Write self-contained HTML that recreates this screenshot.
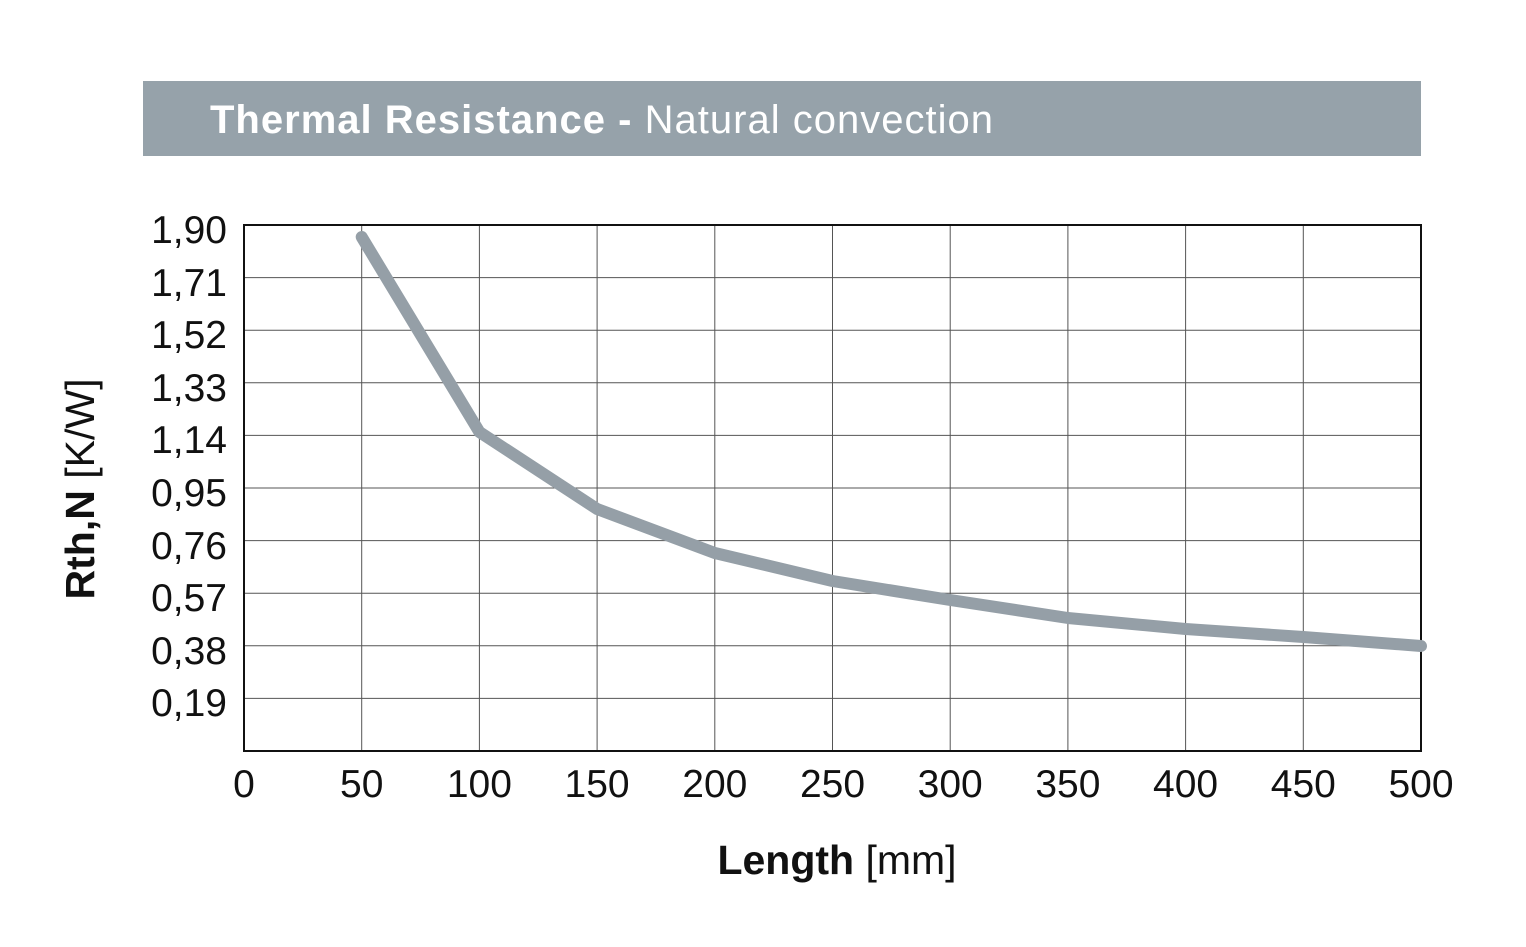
<!DOCTYPE html>
<html><head><meta charset="utf-8"><style>
html,body{margin:0;padding:0;background:#fff;width:1526px;height:947px;overflow:hidden}
</style></head><body>
<svg width="1526" height="947" xmlns="http://www.w3.org/2000/svg" font-family="Liberation Sans, Arial, sans-serif">
<rect x="143" y="81" width="1278" height="75" fill="#96a2aa"/>
<text x="210" y="133" font-size="40" fill="#fff" textLength="783" lengthAdjust="spacing"><tspan font-weight="bold">Thermal Resistance - </tspan>Natural convection</text>
<g stroke="#555" stroke-width="1">
<line x1="361.7" y1="225" x2="361.7" y2="751"/><line x1="479.4" y1="225" x2="479.4" y2="751"/><line x1="597.1" y1="225" x2="597.1" y2="751"/><line x1="714.8" y1="225" x2="714.8" y2="751"/><line x1="832.5" y1="225" x2="832.5" y2="751"/><line x1="950.2" y1="225" x2="950.2" y2="751"/><line x1="1067.9" y1="225" x2="1067.9" y2="751"/><line x1="1185.6" y1="225" x2="1185.6" y2="751"/><line x1="1303.3" y1="225" x2="1303.3" y2="751"/>
<line x1="244" y1="277.6" x2="1421" y2="277.6"/><line x1="244" y1="330.2" x2="1421" y2="330.2"/><line x1="244" y1="382.8" x2="1421" y2="382.8"/><line x1="244" y1="435.4" x2="1421" y2="435.4"/><line x1="244" y1="488" x2="1421" y2="488"/><line x1="244" y1="540.6" x2="1421" y2="540.6"/><line x1="244" y1="593.2" x2="1421" y2="593.2"/><line x1="244" y1="645.8" x2="1421" y2="645.8"/><line x1="244" y1="698.4" x2="1421" y2="698.4"/>
</g>
<rect x="244" y="225" width="1177" height="526" fill="none" stroke="#111" stroke-width="2"/>
<polyline points="361.7,237 479.4,432 597.1,509 714.8,553 832.5,581 950.2,600 1067.9,618 1185.6,629 1303.3,637 1421,646" fill="none" stroke="#959fa7" stroke-width="12" stroke-linecap="round" stroke-linejoin="round"/>
<g font-size="39" fill="#111" text-anchor="end">
<text x="227" y="243">1,90</text><text x="227" y="296">1,71</text><text x="227" y="348">1,52</text><text x="227" y="401">1,33</text><text x="227" y="453">1,14</text><text x="227" y="506">0,95</text><text x="227" y="559">0,76</text><text x="227" y="611">0,57</text><text x="227" y="664">0,38</text><text x="227" y="716">0,19</text>
</g>
<g font-size="39" fill="#111" text-anchor="middle">
<text x="244" y="797">0</text><text x="361.7" y="797">50</text><text x="479.4" y="797">100</text><text x="597.1" y="797">150</text><text x="714.8" y="797">200</text><text x="832.5" y="797">250</text><text x="950.2" y="797">300</text><text x="1067.9" y="797">350</text><text x="1185.6" y="797">400</text><text x="1303.3" y="797">450</text><text x="1421" y="797">500</text>
</g>
<text x="837" y="874" font-size="41" fill="#111" text-anchor="middle"><tspan font-weight="bold">Length</tspan> [mm]</text>
<text transform="translate(94,489) rotate(-90)" font-size="41" fill="#111" text-anchor="middle"><tspan font-weight="bold">Rth,N</tspan> [K/W]</text>
</svg>
</body></html>
